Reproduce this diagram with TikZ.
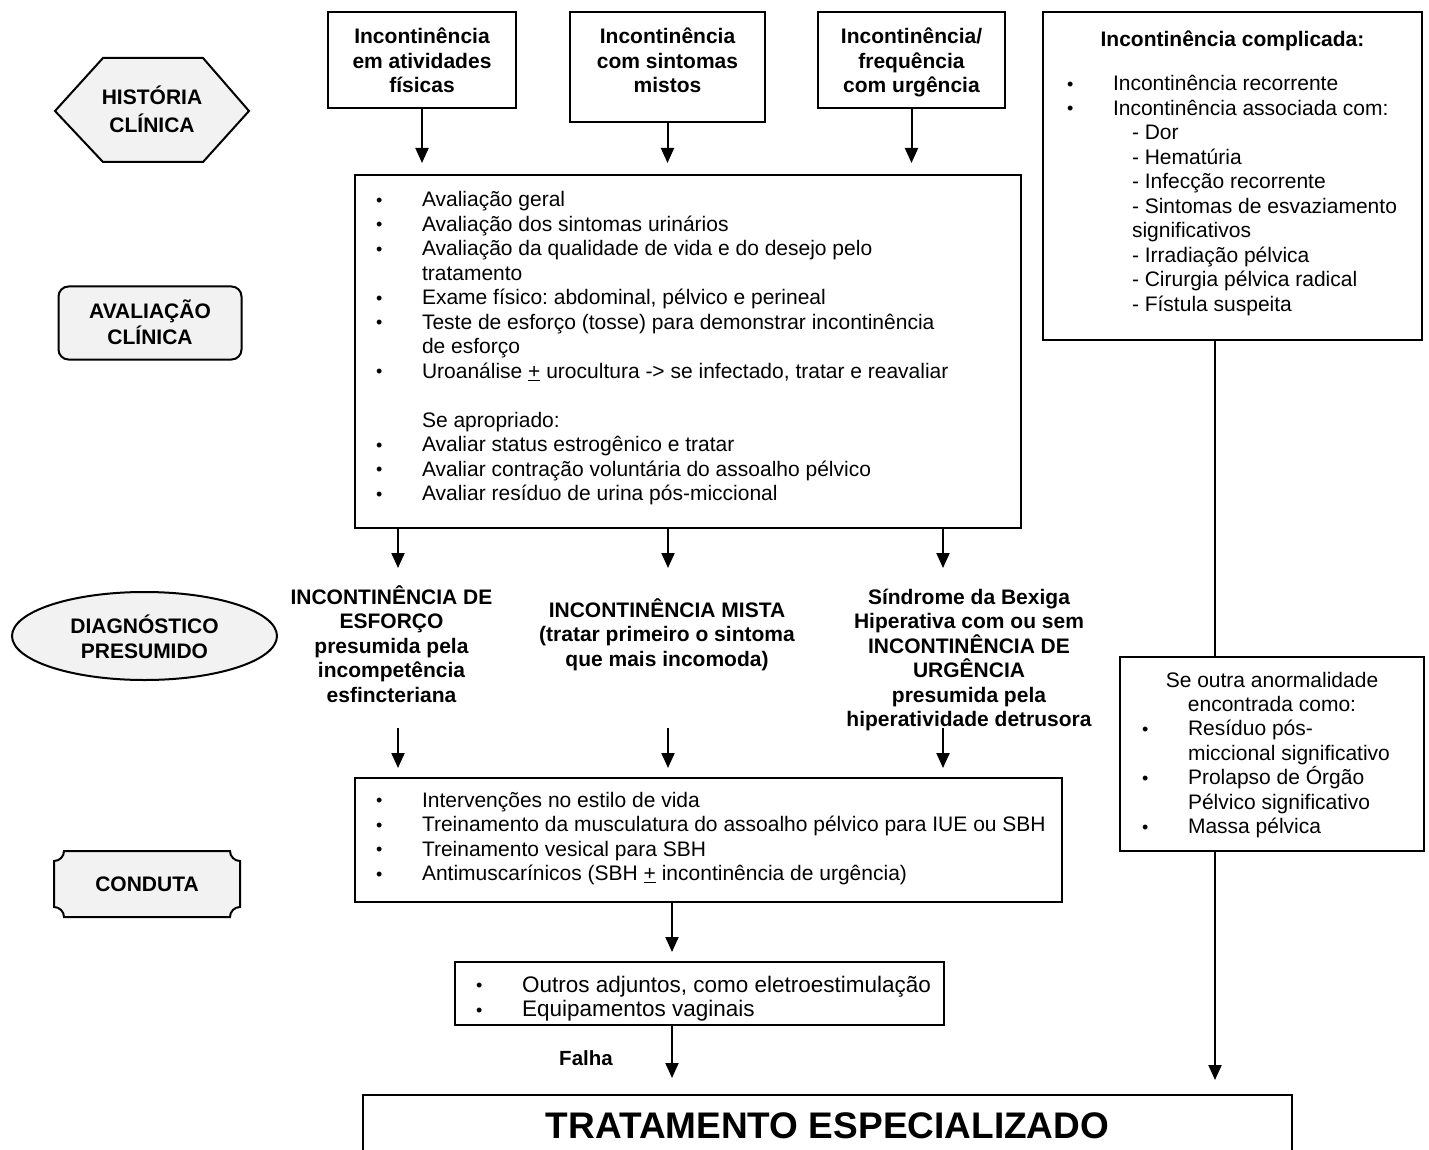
\documentclass[tikz,border=0pt]{standalone}
\usepackage{fontspec}
\setmainfont{Liberation Sans}
\usetikzlibrary{shapes.geometric,arrows.meta}
\frenchspacing
\newcommand{\Lleft}[2][24.5pt]{\vtop{\baselineskip=#1\lineskiplimit=-100pt\lineskip=0pt\halign{##\hfil\cr#2\crcr}}}
\newcommand{\Lcenter}[2][24.5pt]{\vtop{\baselineskip=#1\lineskiplimit=-100pt\lineskip=0pt\halign{\hfil##\hfil\cr#2\crcr}}}
\newcommand{\bul}{\hbox to 46pt{{\fontsize{18}{18}\selectfont\raisebox{0.5pt}{•}}\hss}}
\newcommand{\ind}{\hskip46pt}
\begin{document}
\begin{tikzpicture}[x=1pt,y=-1pt,
  every node/.style={inner sep=0pt, outer sep=0pt, font=\fontsize{21}{24.5}\selectfont},
  box/.style={draw, line width=2pt},
  shp/.style={draw, line width=2pt, fill=black!5},
  lbl/.style={font=\fontsize{21}{26}\bfseries},
  bold/.style={font=\fontsize{21}{24.5}\bfseries},
  arr/.style={line width=2pt, -{Triangle[width=13pt,length=15pt]}},
  conn/.style={line width=2pt}]
\useasboundingbox (0,0) rectangle (1429,1150);
\clip (0,0) rectangle (1429,1150);

% left side shapes
\draw[shp] (55,111) -- (103,58) -- (203,58) -- (249,111) -- (203,162) -- (103,162) -- cycle;
\node[lbl, anchor=base] (histT) at (152,104.5) {\Lcenter[28pt]{HISTÓRIA\cr CLÍNICA}};

\node[shp, rounded corners=10pt, minimum width=183pt, minimum height=73pt] (avalS) at (150,323) {};
\node[lbl, anchor=base] (avalT) at (150,318.5) {\Lcenter[26pt]{AVALIAÇÃO\cr CLÍNICA}};

\node[shp, ellipse, minimum width=265pt, minimum height=88pt] (diagS) at (144.5,636) {};
\node[lbl, anchor=base] (diagT) at (144.5,633.5) {\Lcenter[25pt]{DIAGNÓSTICO\cr PRESUMIDO}};

\draw[shp] (64,851) -- (230,851) .. controls (230,856.5) and (234.5,861) .. (240,861)
  -- (240,907) .. controls (234.5,907) and (230,911.5) .. (230,917)
  -- (64,917) .. controls (64,911.5) and (59.5,907) .. (54,907)
  -- (54,861) .. controls (59.5,861) and (64,856.5) .. (64,851) -- cycle;
\node[lbl, anchor=base] (condT) at (147,891) {CONDUTA};

% top boxes
\node[box, minimum width=188pt, minimum height=96pt] (b1) at (422,60) {};
\node[bold, anchor=base] (b1T) at (422,44) {\Lcenter{Incontinência\cr em atividades\cr físicas}};
\node[box, minimum width=195pt, minimum height=110pt] (b2) at (667.5,67) {};
\node[bold, anchor=base] (b2T) at (667.5,44) {\Lcenter{Incontinência\cr com sintomas\cr mistos}};
\node[box, minimum width=187pt, minimum height=96pt] (b3) at (911.5,60) {};
\node[bold, anchor=base] (b3T) at (911.5,44) {\Lcenter{Incontinência/\cr frequência\cr com urgência}};

\coordinate (t1) at (422,163);
\coordinate (t2) at (667.5,163);
\coordinate (t3) at (911.5,163);
\draw[arr] (b1.south) -- (t1);
\draw[arr] (b2.south) -- (t2);
\draw[arr] (b3.south) -- (t3);

% main box
\node[box, minimum width=666pt, minimum height=353pt] (main) at (688,351.5) {};
\node[anchor=base west] (mainT) at (376,207) {\Lleft{%
\bul Avaliação geral\cr
\bul Avaliação dos sintomas urinários\cr
\bul Avaliação da qualidade de vida e do desejo pelo\cr
\ind tratamento\cr
\bul Exame físico: abdominal, pélvico e perineal\cr
\bul Teste de esforço (tosse) para demonstrar incontinência\cr
\ind de esforço\cr
\bul Uroanálise \underline{+} urocultura -> se infectado, tratar e reavaliar\cr
\cr
\ind Se apropriado:\cr
\bul Avaliar status estrogênico e tratar\cr
\bul Avaliar contração voluntária do assoalho pélvico\cr
\bul Avaliar resíduo de urina pós-miccional}};

\coordinate (d1) at (398,568);
\coordinate (d2) at (668,568);
\coordinate (d3) at (943,568);
\draw[arr] (main.south -| d1) -- (d1);
\draw[arr] (main.south -| d2) -- (d2);
\draw[arr] (main.south -| d3) -- (d3);

% diagnoses
\node[bold, anchor=base] (dg1) at (391.5,604) {\Lcenter{INCONTINÊNCIA DE\cr ESFORÇO\cr presumida pela\cr incompetência\cr esfincteriana}};
\node[bold, anchor=base] (dg2) at (667,617) {\Lcenter{INCONTINÊNCIA MISTA\cr (tratar primeiro o sintoma\cr que mais incomoda)}};
\node[bold, anchor=base] (dg3) at (969,604) {\Lcenter{Síndrome da Bexiga\cr Hiperativa com ou sem\cr INCONTINÊNCIA DE\cr URGÊNCIA\cr presumida pela\cr hiperatividade detrusora}};

\coordinate (e1s) at (398,728);
\coordinate (e2s) at (668,728);
\coordinate (e3s) at (943,728);
\coordinate (e1) at (398,768);
\coordinate (e2) at (668,768);
\coordinate (e3) at (943,768);
\draw[arr] (e1s) -- (e1);
\draw[arr] (e2s) -- (e2);
\draw[arr] (e3s) -- (e3);

% conduta box
\node[box, minimum width=707pt, minimum height=124pt] (cond) at (708.5,840) {};
\node[anchor=base west] (condB) at (376,807) {\Lleft{%
\bul Intervenções no estilo de vida\cr
\bul Treinamento da musculatura do assoalho pélvico para IUE ou SBH\cr
\bul Treinamento vesical para SBH\cr
\bul Antimuscarínicos (SBH \underline{+} incontinência de urgência)}};

\coordinate (f) at (672,952);
\draw[arr] (cond.south -| f) -- (f);

% outros box
\begin{scope}
\clip (455,962) rectangle (944,1022);
\node[anchor=base west, font=\fontsize{22.5}{24.5}\selectfont] (outrosT) at (476,992) {\Lleft{%
\bul Outros adjuntos, como eletroestimulação\cr
\bul Equipamentos vaginais}};
\end{scope}
\node[box, minimum width=489pt, minimum height=63pt] (outros) at (699.5,993.5) {};

\coordinate (g) at (672,1078);
\draw[arr] (outros.south -| g) -- (g);
\node[font=\fontsize{20.5}{22}\bfseries, anchor=base] (falha) at (586,1065) {Falha};

% final box
\node[box, minimum width=929pt, minimum height=80pt] (final) at (827.5,1135) {};
\node[font=\fontsize{37}{40}\bfseries, anchor=base] (finalT) at (827.5,1138) {TRATAMENTO ESPECIALIZADO};

% right boxes
\node[box, minimum width=379pt, minimum height=328pt] (rc1) at (1232.5,176) {};
\node[bold, anchor=base] (rc1H) at (1232.5,47) {Incontinência complicada:};
\node[anchor=base west] (rc1T) at (1067,91) {\Lleft{%
\bul Incontinência recorrente\cr
\bul Incontinência associada com:\cr
\hskip65pt - Dor\cr
\hskip65pt - Hematúria\cr
\hskip65pt - Infecção recorrente\cr
\hskip65pt - Sintomas de esvaziamento\cr
\hskip65pt significativos\cr
\hskip65pt - Irradiação pélvica\cr
\hskip65pt - Cirurgia pélvica radical\cr
\hskip65pt - Fístula suspeita}};

\node[box, minimum width=304pt, minimum height=194pt] (rc2) at (1272,754) {};
\node[anchor=base] (rc2H) at (1272,687) {\Lcenter{Se outra anormalidade\cr encontrada como:}};
\node[anchor=base west] (rc2T) at (1142,735.8) {\Lleft{%
\bul Resíduo pós-\cr
\ind miccional significativo\cr
\bul Prolapso de Órgão\cr
\ind Pélvico significativo\cr
\bul Massa pélvica}};

\coordinate (rx) at (1215,0);
\coordinate (h) at (1215,1080);
\draw[conn] (rc1.south -| rx) -- (rc2.north -| rx);
\draw[arr] (rc2.south -| h) -- (h);
\end{tikzpicture}
\end{document}
